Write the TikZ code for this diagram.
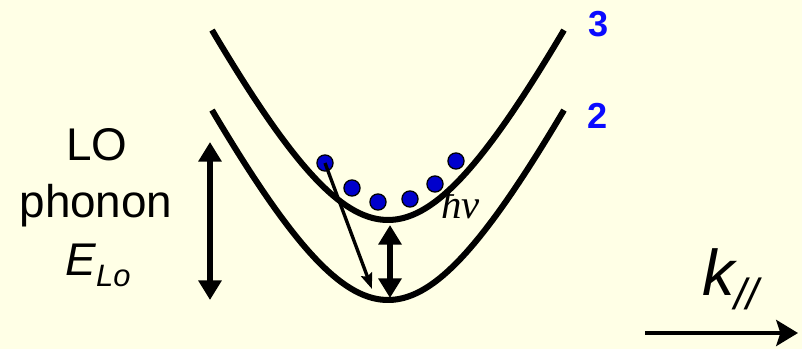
\documentclass[tikz,border=0pt]{standalone}
\usepackage{fontspec}
\setmainfont{Liberation Sans}
\newfontfamily\timesfont{Liberation Serif}
\usetikzlibrary{arrows.meta,positioning}

\definecolor{bgyellow}{RGB}{255,255,230}
\definecolor{dotblue}{RGB}{0,0,204}
\definecolor{numblue}{RGB}{10,10,255}

\begin{document}
\begin{tikzpicture}[x=0.025cm,y=-0.025cm,
    band/.style={line width=4.3pt},
    gaparrow/.style={line width=4.2pt,{Triangle[length=14pt,width=16pt]}-{Triangle[length=14pt,width=16pt]}},
    carrier/.style={circle,fill=dotblue,draw=black,line width=0.9pt,minimum size=11.5pt,inner sep=0pt},
    bandno/.style={text=numblue,font=\fontsize{25.7}{25.7}\selectfont\bfseries,inner sep=0pt},
    lotext/.style={font=\fontsize{32.6}{32.6}\selectfont,anchor=base,inner sep=0pt}]
    % background and page size
    \fill[bgyellow] (0,0) rectangle (802,349);
    \useasboundingbox (0,0) rectangle (802,349);

    % subbands 3 and 2
    \draw[band] plot[domain=-176:176,samples=80,variable=\t]
        (388+\t, {220-245*(sqrt(1+(\t/120)^2)-1)});
    \draw[band] plot[domain=-176:176,samples=80,variable=\t]
        (388+\t, {300-245*(sqrt(1+(\t/120)^2)-1)});
    \node[bandno] (n3) at (599,24) {3};
    \node[bandno] (n2) at (598,116) {2};

    % LO phonon label
    \node[lotext] (lo) at (97,160) {LO};
    \node[lotext] (phonon) at (96,217) {phonon};
    \node[lotext] (elo) at (98,275) {\itshape E\raisebox{-8.5pt}{\fontsize{22}{22}\selectfont Lo}};

    % energy gaps
    \coordinate (lotop) at (210,142);
    \coordinate (lobot) at (210,300);
    \draw[gaparrow] (lotop) -- (lobot);
    \coordinate (gaptop) at (390,225);
    \coordinate (gapbot) at (390,298);
    \draw[gaparrow] (gaptop) -- (gapbot);

    % electrons in subband 3
    \foreach \i/\px/\py in {1/325/163, 2/352/188, 3/378/202, 4/410/199, 5/435/184, 6/456/161} {
        \node[carrier] (dot\i) at (\px,\py) {};
    }
    \coordinate (relaxend) at (372,289);
    \draw[line width=2.4pt,-{Stealth[length=11pt,width=8pt,inset=1.5pt]}] (dot1.center) -- (relaxend);
    \node[anchor=base west,inner sep=0pt,font=\timesfont\itshape\fontsize{29}{29}\selectfont] (hnu) at (441,218) {ħν};

    % in-plane wave vector
    \node[anchor=base west,inner sep=0pt,font=\fontsize{46}{46}\selectfont\itshape] (kpar) at (702,295)
        {k\raisebox{-10pt}{\fontsize{31}{31}\selectfont //}};
    \coordinate (kstart) at (645,333);
    \coordinate (kend) at (798,333);
    \draw[line width=2.8pt,-{Stealth[length=15.5pt,width=18.5pt,inset=3pt]}] (kstart) -- (kend);
\end{tikzpicture}
\end{document}
